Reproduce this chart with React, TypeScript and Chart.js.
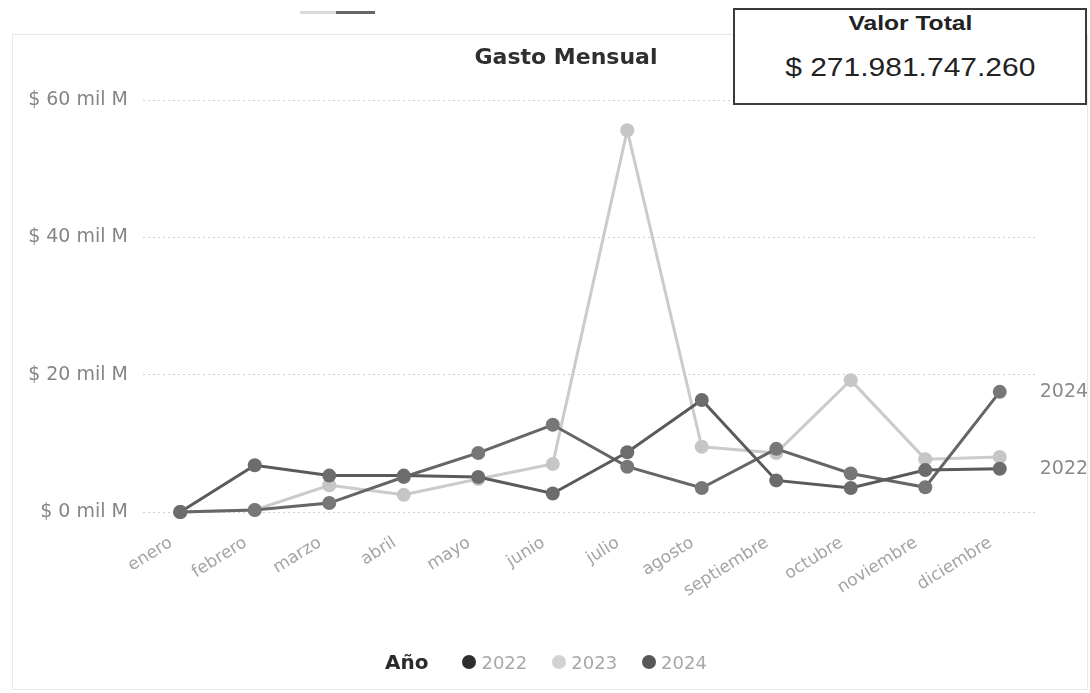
import React, { useEffect, useRef } from "react";
import { Chart, registerables } from "chart.js";

Chart.register(...registerables);

const MONTHS = ["enero", "febrero", "marzo", "abril", "mayo", "junio", "julio", "agosto", "septiembre", "octubre", "noviembre", "diciembre"];
const VALUES_2022 = [0, 6.8, 5.3, 5.3, 5.1, 2.7, 8.7, 16.3, 4.6, 3.5, 6.1, 6.3];
const VALUES_2023 = [0, 0.3, 3.9, 2.5, 4.8, 7.0, 55.6, 9.5, 8.6, 19.2, 7.7, 8.0];
const VALUES_2024 = [0, 0.3, 1.3, 5.1, 8.6, 12.7, 6.6, 3.5, 9.2, 5.6, 3.6, 17.5];
const Y_TICKS = [0, 20, 40, 60];
const YEARS = ["2022", "2023", "2024"];
const END_LABELS = ["2022", "2024"];
const TITLE = "Gasto Mensual";
const TOTAL_LABEL = "Valor Total";
const TOTAL_VALUE = "$ 271.981.747.260";

const COLORS: Record<string, { line: string; point: string; legend: string }> = {
  "2022": { line: "#5a5a5a", point: "#6c6c6c", legend: "#2e2e2e" },
  "2023": { line: "#cbcbcb", point: "#c6c6c6", legend: "#d2d2d2" },
  "2024": { line: "#666666", point: "#777777", legend: "#575757" },
};

const SERIES: Record<string, number[]> = {
  "2022": VALUES_2022,
  "2023": VALUES_2023,
  "2024": VALUES_2024,
};

const ORDER: Record<string, number> = { "2022": 1, "2023": 3, "2024": 2 };

const endLabelPlugin = {
  id: "endLabels",
  afterDatasetsDraw(chart: any) {
    const ctx = chart.ctx;
    ctx.save();
    ctx.font = "19px 'DejaVu Sans'";
    ctx.fillStyle = "#8a8a8a";
    ctx.textAlign = "left";
    ctx.textBaseline = "middle";
    chart.data.datasets.forEach((ds: any, i: number) => {
      if (!END_LABELS.includes(ds.label)) return;
      const meta = chart.getDatasetMeta(i);
      const pt = meta.data[meta.data.length - 1];
      if (pt) ctx.fillText(ds.label, pt.x + 40, pt.y);
    });
    ctx.restore();
  },
};

export default function App() {
  const canvasRef = useRef<HTMLCanvasElement | null>(null);

  useEffect(() => {
    if (!canvasRef.current) return;
    const chart = new Chart(canvasRef.current, {
      type: "line",
      data: {
        labels: MONTHS,
        datasets: YEARS.map((y) => ({
          label: y,
          data: SERIES[y],
          borderColor: COLORS[y].line,
          backgroundColor: COLORS[y].point,
          pointBackgroundColor: COLORS[y].point,
          pointBorderColor: COLORS[y].point,
          pointRadius: 7,
          pointBorderWidth: 0,
          borderWidth: 3,
          tension: 0,
          order: ORDER[y],
          clip: false as any,
        })),
      },
      options: {
        animation: false,
        responsive: false,
        maintainAspectRatio: false,
        layout: { padding: { left: 23, right: 53, top: 100, bottom: 0 } },
        plugins: {
          legend: { display: false },
          title: { display: false },
          tooltip: { enabled: false },
        },
        scales: {
          x: {
            type: "category",
            offset: true,
            grid: { display: false, drawTicks: false },
            border: { display: false },
            ticks: {
              autoSkip: false,
              minRotation: 32,
              maxRotation: 32,
              padding: 15,
              color: "#a4a4a4",
              font: { family: "'DejaVu Sans'", size: 17 },
              callback: (_v: any, i: number) => MONTHS[i] + "  ",
            },
            afterFit: (scale: any) => {
              scale.height = 181;
            },
          },
          y: {
            min: 0,
            max: 60,
            afterBuildTicks: (scale: any) => {
              scale.ticks = Y_TICKS.map((v) => ({ value: v }));
            },
            grid: {
              color: "#cfcfcf",
              lineWidth: 1,
              drawTicks: false,
            },
            border: { display: false, dash: [2, 3] },
            ticks: {
              padding: 15,
              color: "#858585",
              font: { family: "'DejaVu Sans'", size: 19 },
              callback: (v: any) => `$ ${v} mil M`,
            },
            afterFit: (scale: any) => {
              scale.width = 120;
            },
          },
        },
      },
      plugins: [endLabelPlugin],
    });
    return () => chart.destroy();
  }, []);

  return (
    <div style={{ position: "absolute", left: 0, top: 0, width: 1090, height: 693, background: "#fff", overflow: "hidden" }}>
      <div style={{ position: "absolute", left: 12, top: 34, width: 1074, height: 654, border: "1px solid #e8e8e8" }} />
      <div style={{ position: "absolute", left: 300, top: 11, width: 36, height: 3, background: "#dadada" }} />
      <div style={{ position: "absolute", left: 336, top: 11, width: 39, height: 3, background: "#666" }} />
      <canvas ref={canvasRef} width={1090} height={693} style={{ position: "absolute", left: 0, top: 0, width: 1090, height: 693 }} />
      <div style={{ position: "absolute", left: 366, top: 44, width: 400, textAlign: "center", fontFamily: "'DejaVu Sans'", fontWeight: "bold", fontSize: 22, color: "#2f2f2f" }}>{TITLE}</div>
      <div style={{ position: "absolute", left: 733, top: 8, width: 350, height: 93, border: "2px solid #3a3a3a", background: "#fff" }}>
        <div style={{ position: "absolute", left: 0, top: 2, width: "100%", textAlign: "center" }}>
          <span style={{ display: "inline-block", fontFamily: "'Liberation Sans'", fontWeight: "bold", fontSize: 20, color: "#222", transform: "scaleX(1.23)" }}>{TOTAL_LABEL}</span>
        </div>
        <div style={{ position: "absolute", left: 0, top: 43, width: "100%", textAlign: "center" }}>
          <span style={{ display: "inline-block", fontFamily: "'Liberation Sans'", fontSize: 25, color: "#222", transform: "scaleX(1.2)" }}>{TOTAL_VALUE}</span>
        </div>
      </div>
      <div style={{ position: "absolute", left: 385, top: 650, display: "flex", alignItems: "center", fontFamily: "'DejaVu Sans'", whiteSpace: "nowrap" }}>
        <span style={{ fontWeight: "bold", fontSize: 20, color: "#2a2a2a", marginRight: 34 }}>Año</span>
        {YEARS.map((y) => (
          <span key={y} style={{ display: "flex", alignItems: "center", marginRight: 25 }}>
            <span style={{ width: 14, height: 14, borderRadius: "50%", background: COLORS[y].legend, display: "inline-block", marginRight: 5 }} />
            <span style={{ fontSize: 18, color: "#a8a8a8" }}>{y}</span>
          </span>
        ))}
      </div>
    </div>
  );
}
